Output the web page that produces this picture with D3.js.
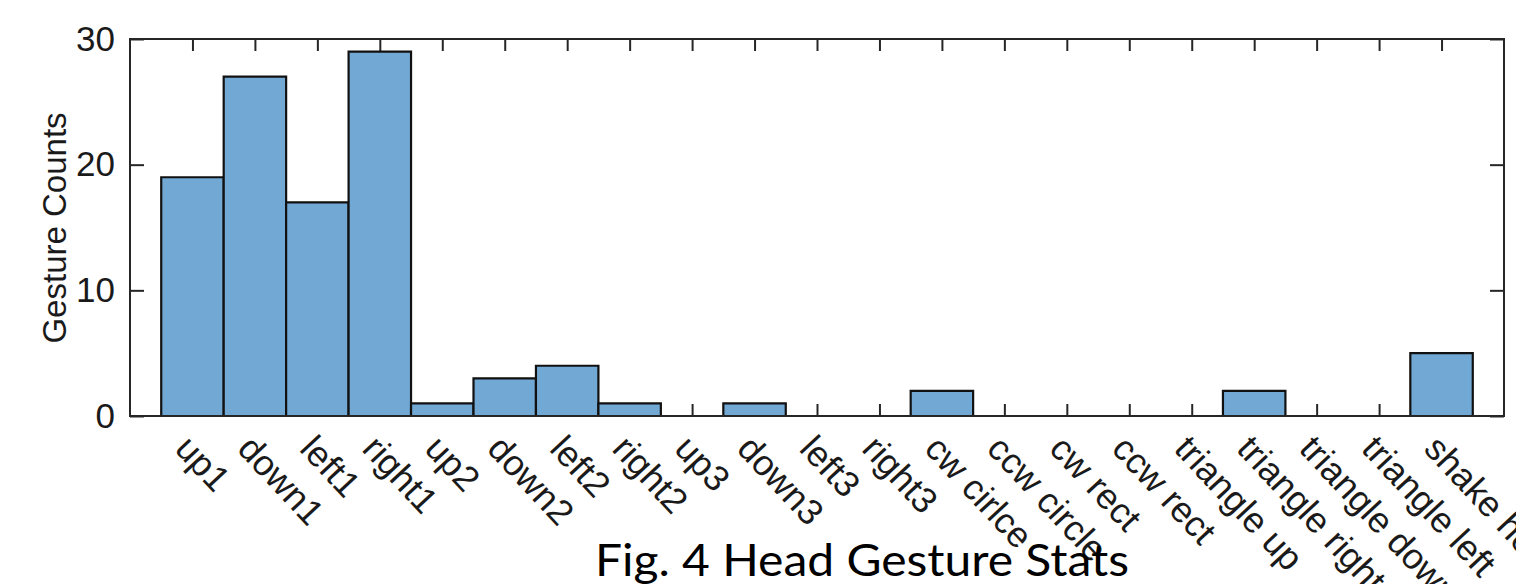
<!DOCTYPE html>
<html>
<head>
<meta charset="utf-8">
<script src="https://cdn.jsdelivr.net/npm/d3@7"></script>
<style>
  html, body { margin: 0; padding: 0; background: #fff; overflow: hidden; }
  svg { display: block; }
</style>
</head>
<body>
<svg id="chart" width="1516" height="584"></svg>
<script>
// ---- data ----
const categories = ["up1","down1","left1","right1","up2","down2","left2","right2","up3","down3","left3","right3",
  "cw cirlce","ccw circle","cw rect","ccw rect","triangle up","triangle right","triangle down","triangle left","shake head"];
const counts = [19,27,17,29,1,3,4,1,0,1,0,0,2,0,0,0,0,2,0,0,5];
const yTicks = [0,10,20,30];
const yLabel = "Gesture Counts";
const caption = "Fig. 4 Head Gesture Stats";

// ---- layout ----
const mLeft = 130, mRight = 1504, mTop = 39, mBottom = 416;
const svg = d3.select("#chart");
const axisFont = "'Liberation Sans', Arial, Helvetica, sans-serif";
const axisColor = "#262626";

const x = d3.scaleLinear().domain([0, categories.length + 1]).range([mLeft, mRight]);
const y = d3.scaleLinear().domain([0, 30]).range([mBottom, mTop]);

// y axis (left): inward ticks
const yAxisL = d3.axisLeft(y).tickValues(yTicks).tickSize(-14).tickPadding(30).tickFormat(d3.format("d"));
const gyl = svg.append("g").attr("transform", `translate(${mLeft},0)`).call(yAxisL);
gyl.select(".domain").remove();
gyl.selectAll(".tick line").attr("stroke", axisColor).attr("stroke-width", 2);
gyl.selectAll(".tick text").attr("font-family", axisFont).attr("font-size", 35).attr("fill", "#1a1a1a")
  .attr("x", -15);

// y axis (right): inward ticks
const yAxisR = d3.axisRight(y).tickValues(yTicks).tickSize(-14).tickFormat("");
const gyr = svg.append("g").attr("transform", `translate(${mRight},0)`).call(yAxisR);
gyr.select(".domain").remove();
gyr.selectAll(".tick line").attr("stroke", axisColor).attr("stroke-width", 2);

// x axis bottom ticks (inward)
const xt = categories.map((c,i) => i + 1);
const xAxisB = d3.axisBottom(x).tickValues(xt).tickSize(-12).tickFormat("");
const gxb = svg.append("g").attr("transform", `translate(0,${mBottom})`).call(xAxisB);
gxb.select(".domain").remove();
gxb.selectAll(".tick line").attr("stroke", axisColor).attr("stroke-width", 2);

// x axis top ticks (inward)
const xAxisT = d3.axisTop(x).tickValues(xt).tickSize(-12).tickFormat("");
const gxt = svg.append("g").attr("transform", `translate(0,${mTop})`).call(xAxisT);
gxt.select(".domain").remove();
gxt.selectAll(".tick line").attr("stroke", axisColor).attr("stroke-width", 2);

// bars (paths so zero-height bars still show their edge line)
svg.append("g").selectAll("path").data(counts).join("path")
  .attr("d", (d,i) => {
    const p = d3.path();
    p.rect(x(i + 0.5), y(d), x(1) - x(0), y(0) - y(d));
    return p.toString();
  })
  .attr("fill", "#72a9d4")
  .attr("stroke", "#111")
  .attr("stroke-width", 2.2);

// axes box
svg.append("rect")
  .attr("x", mLeft).attr("y", mTop)
  .attr("width", mRight - mLeft).attr("height", mBottom - mTop)
  .attr("fill", "none").attr("stroke", axisColor).attr("stroke-width", 2);

// rotated category labels
svg.append("g").selectAll("text").data(categories).join("text")
  .attr("transform", (d,i) => `translate(${x(i + 1) - 19},${450}) rotate(47)`)
  .attr("font-family", axisFont)
  .attr("font-size", 36)
  .attr("fill", "#1a1a1a")
  .attr("text-anchor", "start")
  .text(d => d);

// y label
svg.append("text")
  .attr("transform", `translate(66,228) rotate(-90)`)
  .attr("text-anchor", "middle")
  .attr("font-family", axisFont)
  .attr("font-size", 33)
  .attr("fill", "#1a1a1a")
  .text(yLabel);

// caption
svg.append("text")
  .attr("x", 595).attr("y", 576)
  .attr("font-family", "Lato, 'Open Sans', sans-serif")
  .attr("font-size", 45)
  .attr("fill", "#000")
  .attr("textLength", 534)
  .attr("lengthAdjust", "spacingAndGlyphs")
  .text(caption);
</script>
</body>
</html>
